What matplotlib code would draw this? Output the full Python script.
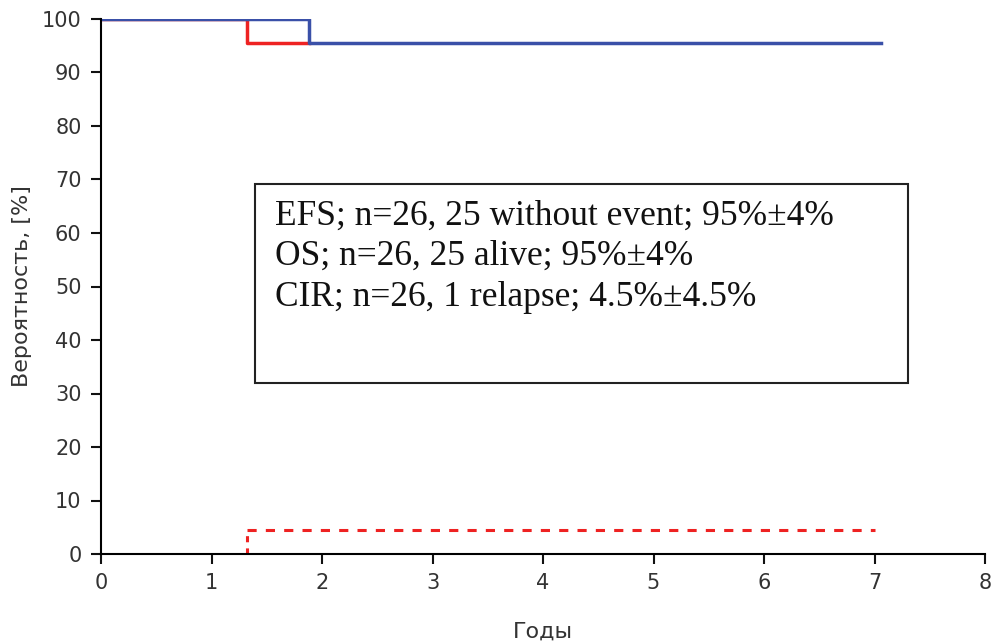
import matplotlib
matplotlib.use('Agg')
import matplotlib.pyplot as plt
from matplotlib.patches import Rectangle

# данные кривых (годы, %)
efs_t = [0, 1.88, 7.06]
efs_y = [100, 95.5, 95.5]
os_t = [0, 1.32, 1.88]
os_y = [100, 95.5, 95.5]
cir_t = [0, 1.32, 7.0]
cir_y = [0, 4.5, 4.5]

box_lines = ['EFS; n=26, 25 without event; 95%±4%',
             'OS; n=26, 25 alive; 95%±4%',
             'CIR; n=26, 1 relapse; 4.5%±4.5%']

xticks = list(range(0, 9))
yticks = list(range(0, 101, 10))

plt.rcParams['font.family'] = ['DejaVu Sans']

fig = plt.figure(figsize=(9.91, 6.41), dpi=100)
ax = fig.add_axes([101 / 991, 87 / 641, 884 / 991, 535 / 641])

# CIR: пунктир, на нуле до события тонкий тёмный
ax.step(cir_t[:2], [0, 0], where='post', color='#a01010', lw=1.0, ls=(0, (2, 3)))
ax.step(cir_t[1:], cir_y[1:], where='post', color='#ee2222', lw=2.2, ls=(0, (3, 3)))
ax.plot([cir_t[1], cir_t[1]], [0, cir_y[1]], color='#ee2222', lw=2.2, ls=(0, (2, 2)))
ax.step(os_t, os_y, where='post', color='#ee2222', lw=2.5)
ax.step(efs_t, efs_y, where='post', color='#3a50a8', lw=2.5)

ax.set_xlim(0, 8)
ax.set_ylim(0, 100)
ax.set_xticks(xticks)
ax.set_yticks(yticks)
ax.spines['top'].set_visible(False)
ax.spines['right'].set_visible(False)
ax.spines['left'].set_linewidth(1.5)
ax.spines['bottom'].set_linewidth(1.5)
ax.tick_params(direction='out', length=7, width=1.5, labelsize=15, labelcolor='#333333',
               color='#111111', pad=7)
for sp in ax.spines.values():
    sp.set_clip_on(False)

ax.set_xlabel('Годы', fontsize=16, labelpad=20, color='#333333')
ax.set_ylabel('Вероятность, [%]', fontsize=16, labelpad=7, color='#333333')

# рамка с подписями
ax.add_patch(Rectangle((255, 258), 653, 199, transform=None, fill=False,
                       edgecolor='#222222', lw=1.5))
for i, line in enumerate(box_lines):
    fig.text(275 / 991, (641 - 216 - i * 40.5) / 641, line, fontsize=25.5,
             family='Liberation Serif', va='center', ha='left', color='#111111')

fig.savefig('out.png', dpi=100)
